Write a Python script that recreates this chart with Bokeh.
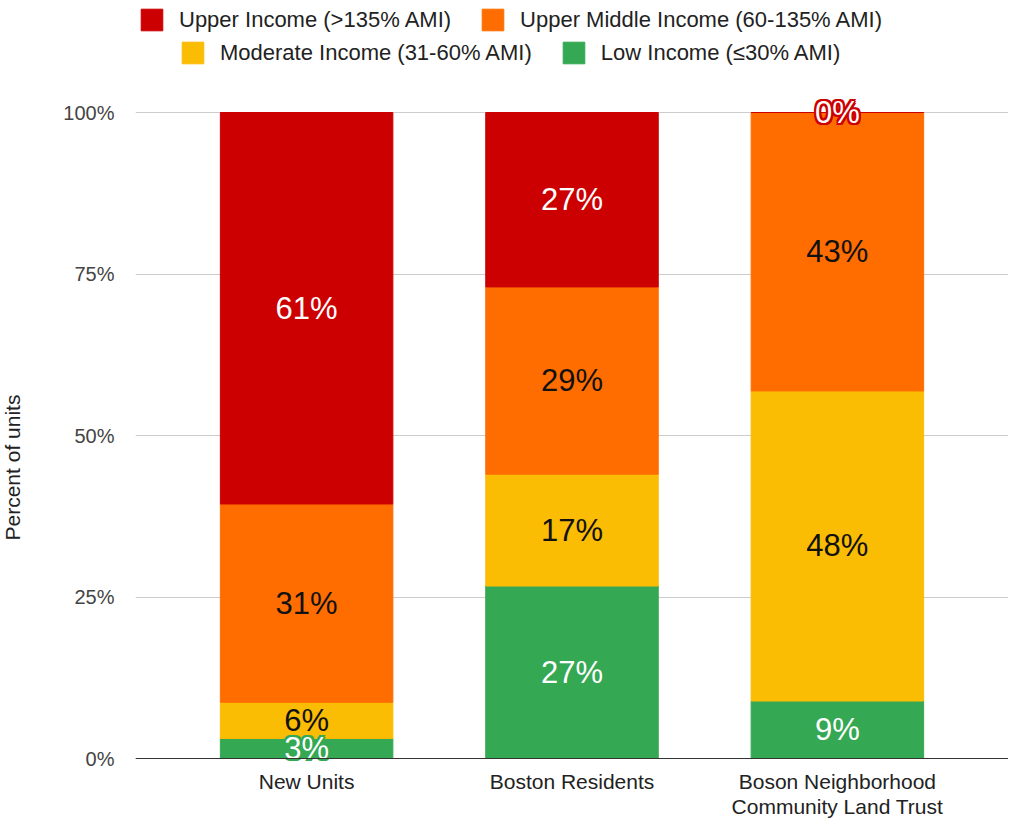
from bokeh.plotting import figure
from bokeh.models import (ColumnDataSource, FactorRange, Range1d, Legend, LegendItem,
                          FixedTicker, Span, Title)
from bokeh.core.properties import value
from bokeh.embed import file_html
from bokeh.resources import INLINE

categories = ["New Units", "Boston Residents", "Boson Neighborhood\nCommunity Land Trust"]
series_names = ["Upper Income (>135% AMI)", "Upper Middle Income (60-135% AMI)",
                "Moderate Income (31-60% AMI)", "Low Income (\u226430% AMI)"]
low = [3.1, 26.7, 8.9]
moderate = [5.6, 17.3, 48.0]
upper_middle = [30.7, 29.0, 43.1]
upper = [60.6, 27.0, 0.0]
y_ticks = [0, 25, 50, 75, 100]
y_tick_labels = ["0%", "25%", "50%", "75%", "100%"]

col_upper = "#cc0000"
col_um = "#ff6d01"
col_mod = "#fbbc04"
col_low = "#34a853"

FONT = "Liberation Sans"

# layout (pixels)
W, H = 1008, 818
LEFT = 133
ZERO_PX = 758          # y pixel of 0% measured from figure top
TOP_PX = 112           # y pixel of 100%
PX_PER_UNIT = (ZERO_PX - TOP_PX) / 100.0

src = ColumnDataSource(dict(cat=categories, low=low, moderate=moderate, um=upper_middle, upper=upper))

p = figure(x_range=FactorRange(factors=categories, range_padding=0.0965),
           y_range=Range1d(-(H - ZERO_PX) / PX_PER_UNIT, ZERO_PX / PX_PER_UNIT),
           width=W, height=H, output_backend="svg", toolbar_location=None,
           min_border_left=LEFT, min_border_right=0, min_border_top=0, min_border_bottom=0)

rs = p.vbar_stack(["low", "moderate", "um", "upper"], x="cat", width=0.65,
                  color=[col_low, col_mod, col_um, col_upper], source=src)
r_low, r_mod, r_um, r_upper = rs

# segment labels
stack = [("low", low, col_low, "white"), ("moderate", moderate, col_mod, "#111111"),
         ("um", upper_middle, col_um, "#111111"), ("upper", upper, col_upper, "white")]
lx, ly, lt, lc = [], [], [], []
hx, hy, ht, hc = [], [], [], []
for i, c in enumerate(categories):
    base = 0.0
    for name, vals, fill, tcol in stack:
        v = vals[i]
        mid = base + v / 2
        txt = f"{round(v)}%"
        if v < 4.5:
            hx.append(c); hy.append(mid); ht.append(txt); hc.append(fill)
            lx.append(c); ly.append(mid); lt.append(txt); lc.append("white")
        else:
            lx.append(c); ly.append(mid); lt.append(txt); lc.append(tcol)
        base += v

halo_src = ColumnDataSource(dict(x=hx, y=hy, text=ht, color=hc))
lab_src = ColumnDataSource(dict(x=lx, y=ly, text=lt, color=lc))
for dx in (-2, 0, 2):
    for dy in (-2, 0, 2):
        if dx == 0 and dy == 0:
            continue
        p.text(x="x", y="y", text="text", source=halo_src, text_color="color",
               x_offset=dx, y_offset=dy, text_align="center", text_baseline="middle",
               text_font=value(FONT), text_font_size="31px")
p.text(x="x", y="y", text="text", source=lab_src, text_color="color",
       text_align="center", text_baseline="middle",
       text_font=value(FONT), text_font_size="31px")

# baseline and category labels
p.add_layout(Span(location=0, dimension="width", line_color="#333333", line_width=1))
cat_src = ColumnDataSource(dict(x=categories, y=[0] * len(categories), text=categories))
p.text(x="x", y="y", text="text", source=cat_src, y_offset=11,
       text_align="center", text_baseline="top", text_color="#222222",
       text_font=value(FONT), text_font_size="21px", text_line_height=1.1)
p.xaxis.visible = False

# axes
p.outline_line_color = None
p.xgrid.grid_line_color = None
p.ygrid.grid_line_color = "#cccccc"
p.ygrid.grid_line_width = 1

p.yaxis.ticker = FixedTicker(ticks=y_ticks)
p.yaxis.major_label_overrides = {t: l for t, l in zip(y_ticks, y_tick_labels)}
p.yaxis.axis_line_color = None
p.yaxis.major_tick_line_color = None
p.yaxis.minor_tick_line_color = None
p.yaxis.major_label_standoff = 15
p.yaxis.major_label_text_font = FONT
p.yaxis.major_label_text_font_size = "20px"
p.yaxis.major_label_text_color = "#444444"

# y-axis title: a spacer then the title, stacked outward from the axis
spacer = Title(text=" ", standoff=10, text_font=FONT, text_font_size="21px")
ytitle = Title(text="Percent of units", align="left", offset=278, vertical_align="top",
               standoff=0, text_font=FONT, text_font_size="21px", text_font_style="normal",
               text_color="#222222")
p.add_layout(spacer, "left")
p.add_layout(ytitle, "left")

def make_legend(items, loc):
    return Legend(items=items, orientation="horizontal", location=loc,
                  glyph_width=27, glyph_height=27, label_standoff=14, spacing=28,
                  padding=0, margin=0, border_line_color=None, background_fill_alpha=0,
                  label_text_font=FONT, label_text_font_size="22px", label_text_color="#222222")

leg1 = make_legend([LegendItem(label=series_names[0], renderers=[r_upper]),
                    LegendItem(label=series_names[1], renderers=[r_um])], (3, 785))
leg2 = make_legend([LegendItem(label=series_names[2], renderers=[r_mod]),
                    LegendItem(label=series_names[3], renderers=[r_low])], (44, 752))
p.add_layout(leg1)
p.add_layout(leg2)

open("out.html", "w").write(file_html(p, INLINE))
